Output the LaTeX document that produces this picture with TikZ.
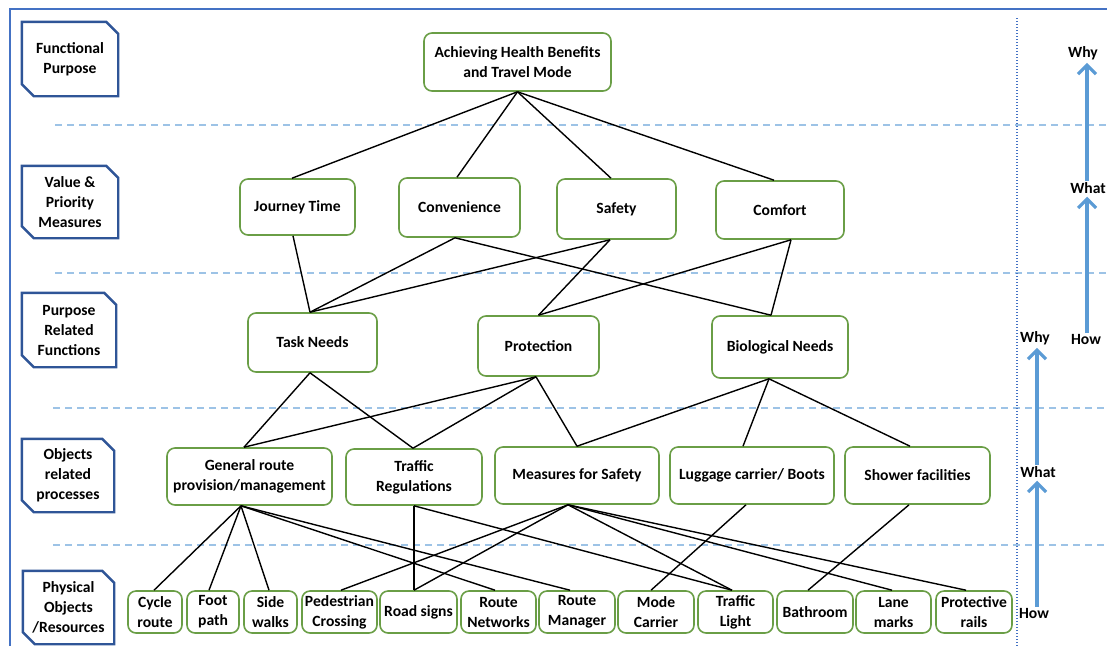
\documentclass[tikz,border=0pt]{standalone}
\usepackage{fontspec}
\setmainfont{Carlito}
\usetikzlibrary{arrows.meta}
\definecolor{boxgreen}{HTML}{6A9E46}
\definecolor{labelblue}{HTML}{2F5597}
\definecolor{frameblue}{HTML}{4472C4}
\definecolor{sepblue}{HTML}{9DC3E6}
\definecolor{arrowblue}{HTML}{5B9BD5}

% chamfered outline (top-right and bottom-left corners cut) around a level label
\newcommand\lvlframe[1]{%
  \draw[labelblue, line width=2.4pt, line join=miter]
    (#1.north west) -- ([xshift=-12pt]#1.north east) -- ([yshift=-12pt]#1.north east)
    -- (#1.south east) -- ([xshift=12pt]#1.south west) -- ([yshift=12pt]#1.south west) -- cycle;}

\begin{document}
\begin{tikzpicture}[x=1pt,y=-1pt,
  every node/.style={font=\fontsize{15.6}{20}\selectfont\bfseries, align=center},
  gbox/.style 2 args={draw=boxgreen, line width=1.6pt, rounded corners=8pt, fill=white,
    minimum width=#1pt, minimum height=#2pt, inner xsep=1pt, inner ysep=1pt},
  lvl/.style 2 args={minimum width=#1pt, minimum height=#2pt, inner sep=1pt},
  link/.style={line width=1.4pt, black},
  sep/.style={sepblue, line width=1.3pt, dash pattern=on 7pt off 5pt},
  flow/.style={arrowblue, line width=3.5pt, -{Straight Barb[length=9pt,width=18pt,line width=3.2pt]}},
  tag/.style={inner sep=1pt}
]
\useasboundingbox (0,0) rectangle (1107,646);

% outer frame
\draw[frameblue, line width=2.8pt] (10,646) -- (10,9) -- (1107,9);

% level separators
\draw[sep] (55,125) -- (1107,125);
\draw[sep] (55,273) -- (1107,273);
\draw[sep] (53,408) -- (1107,408);
\draw[sep] (53,545) -- (1107,545);

% vertical divider
\draw[frameblue, line width=1.2pt, dash pattern=on 1.2pt off 1.8pt] (1017,18) -- (1017,646);

% level labels
\node[lvl={96}{74}] (fp)  at (70,59)    {Functional\\Purpose};
\node[lvl={96}{72}] (vpm) at (70,202)   {Value \&\\Priority\\Measures};
\node[lvl={94}{74}] (prf) at (69,330)   {Purpose\\Related\\Functions};
\node[lvl={92}{73}] (orp) at (68,475.5) {Objects\\related\\processes};
\node[lvl={91}{73}] (por) at (68.5,607.5) {Physical\\Objects\\/Resources};
\lvlframe{fp}\lvlframe{vpm}\lvlframe{prf}\lvlframe{orp}\lvlframe{por}

% functional purpose
\node[gbox={187}{58}] (ach) at (517.5,62) {Achieving Health Benefits\\and Travel Mode};

% value & priority measures
\node[gbox={115}{56}] (jt)   at (297.5,207)   {Journey Time};
\node[gbox={121}{59}] (conv) at (459.5,207.5) {Convenience};
\node[gbox={119}{60}] (saf)  at (616.5,209)   {Safety};
\node[gbox={128}{58}] (comf) at (780,210)     {Comfort};

% purpose related functions
\node[gbox={129}{59}] (task) at (312.5,342.5) {Task Needs};
\node[gbox={121}{60}] (prot) at (538.5,346)   {Protection};
\node[gbox={136}{62}] (bio)  at (780,347)     {Biological Needs};

% object related processes
\node[gbox={165}{57}] (gen)  at (249.5,476.5) {General route\\provision/management};
\node[gbox={136}{56}] (treg) at (414,477)     {Traffic\\Regulations};
\node[gbox={164}{57}] (meas) at (577,475.5)   {Measures for Safety};
\node[gbox={164}{57}] (lug)  at (752,475.5)   {Luggage carrier/ Boots};
\node[gbox={145}{57}] (shw)  at (917.5,475.5) {Shower facilities};

% physical objects / resources
\node[gbox={54}{42}] (cyc)   at (155,612)   {Cycle\\route};
\node[gbox={52}{42}] (foot)  at (213,612)   {Foot\\path};
\node[gbox={53}{42}] (side)  at (270.5,612) {Side\\walks};
\node[gbox={75}{42}] (ped)   at (339.5,612) {Pedestrian\\Crossing};
\node[gbox={77}{42}] (road)  at (418.5,612) {Road signs};
\node[gbox={75}{42}] (rnet)  at (498.5,612) {Route\\Networks};
\node[gbox={76}{42}] (rman)  at (577,612)   {Route\\Manager};
\node[gbox={76}{42}] (mode)  at (656,612)   {Mode\\Carrier};
\node[gbox={75}{42}] (tl)    at (735.5,612) {Traffic\\Light};
\node[gbox={76}{42}] (bath)  at (815,612)   {Bathroom};
\node[gbox={75}{42}] (lane)  at (893.5,612) {Lane\\marks};
\node[gbox={76}{42}] (rails) at (974,612)   {Protective\\rails};

% purpose -> values
\draw[link] (ach.south) -- ([xshift=-5.5pt]jt.north);
\draw[link] (ach.south) -- ([xshift=-2.5pt]conv.north);
\draw[link] (ach.south) -- ([xshift=-5.5pt]saf.north);
\draw[link] (ach.south) -- ([xshift=-6pt]comf.north);

% values -> functions
\draw[link] ([xshift=-4.5pt]jt.south)   -- ([xshift=-2.5pt]task.north);
\draw[link] ([xshift=-4.5pt]conv.south) -- ([xshift=-2.5pt]task.north);
\draw[link] ([xshift=-4.5pt]conv.south) -- ([xshift=-9pt]bio.north);
\draw[link] ([xshift=-6.5pt]saf.south)  -- ([xshift=-2.5pt]task.north);
\draw[link] ([xshift=-6.5pt]saf.south)  -- (prot.north);
\draw[link] ([xshift=11pt]comf.south)   -- (prot.north);
\draw[link] ([xshift=11pt]comf.south)   -- ([xshift=-9pt]bio.north);

% functions -> processes
\draw[link] ([xshift=-2.5pt]task.south) -- ([xshift=-5.5pt]gen.north);
\draw[link] ([xshift=-2.5pt]task.south) -- ([xshift=-1pt]treg.north);
\draw[link] ([xshift=-2.5pt]prot.south) -- ([xshift=-5.5pt]gen.north);
\draw[link] ([xshift=-2.5pt]prot.south) -- ([xshift=-1pt]treg.north);
\draw[link] ([xshift=-2.5pt]prot.south) -- (meas.north);
\draw[link] ([xshift=-11pt]bio.south)   -- (meas.north);
\draw[link] ([xshift=-11pt]bio.south)   -- ([xshift=-9pt]lug.north);
\draw[link] ([xshift=-11pt]bio.south)   -- ([xshift=-7.5pt]shw.north);

% processes -> physical objects
\draw[link] ([xshift=-8.5pt]gen.south) -- ([xshift=-1pt]cyc.north);
\draw[link] ([xshift=-8.5pt]gen.south) -- ([xshift=-4pt]foot.north);
\draw[link] ([xshift=-8.5pt]gen.south) -- ([xshift=-1.5pt]side.north);
\draw[link] ([xshift=-8.5pt]gen.south) -- ([xshift=-3.5pt]rnet.north);
\draw[link] ([xshift=-8.5pt]gen.south) -- ([xshift=-7pt]rman.north);
\draw[link] (treg.south) -- ([xshift=-4.5pt]road.north);
\draw[link] (treg.south) -- ([xshift=-3.5pt]tl.north);
\draw[link] ([xshift=-9pt]meas.south) -- ([xshift=1.5pt]ped.north);
\draw[link] ([xshift=-9pt]meas.south) -- ([xshift=-4.5pt]road.north);
\draw[link] ([xshift=-9pt]meas.south) -- ([xshift=-3.5pt]tl.north);
\draw[link] ([xshift=-9pt]meas.south) -- ([xshift=-1.5pt]lane.north);
\draw[link] ([xshift=-9pt]meas.south) -- ([xshift=-8pt]rails.north);
\draw[link] ([xshift=-6pt]lug.south) -- ([xshift=-5pt]mode.north);
\draw[link] ([xshift=-8.5pt]shw.south) -- ([xshift=-7pt]bath.north);

% why / what / how ladders
\node[tag] (why1)  at (1083,53)  {Why};
\node[tag] (what1) at (1088,188) {What};
\node[tag] (how1)  at (1086,339) {How};
\node[tag] (why2)  at (1035,338) {Why};
\node[tag] (what2) at (1038,472) {What};
\node[tag] (how2)  at (1034,613) {How};
\coordinate (axr) at (1087,0);
\coordinate (axl) at (1037,0);
\draw[flow] (axr |- what1.north) -- ([yshift=-2pt]axr |- why1.south);
\draw[flow] (axr |- how1.north)  -- ([yshift=-2pt]axr |- what1.south);
\draw[flow] (axl |- what2.north) -- ([yshift=-2pt]axl |- why2.south);
\draw[flow] (axl |- how2.north)  -- ([yshift=-2pt]axl |- what2.south);
\end{tikzpicture}
\end{document}
